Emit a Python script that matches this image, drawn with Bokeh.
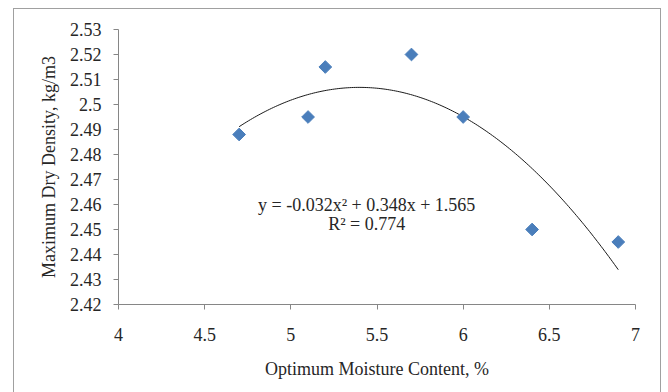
import numpy as np
from bokeh.plotting import figure
from bokeh.models import Label, FixedTicker, Range1d
from bokeh.embed import file_html
from bokeh.resources import INLINE

moisture = [4.7, 5.1, 5.2, 5.7, 6.0, 6.4, 6.9]
density = [2.488, 2.495, 2.515, 2.52, 2.495, 2.45, 2.445]
x_ticks = [4, 4.5, 5, 5.5, 6, 6.5, 7]
y_ticks = [2.42, 2.43, 2.44, 2.45, 2.46, 2.47, 2.48, 2.49, 2.5, 2.51, 2.52, 2.53]
equation_text = "y = -0.032x\u00b2 + 0.348x + 1.565"
r2_text = "R\u00b2 = 0.774"

FONT = "Liberation Serif"
FS = "18px"

p = figure(width=646, height=383, output_backend="svg", toolbar_location=None,
           x_range=Range1d(4, 7), y_range=Range1d(2.42, 2.53),
           min_border_left=104, min_border_right=25, min_border_top=20, min_border_bottom=88)
p.margin = (9, 8, 0, 14)
p.styles = {"outline": "1.5px solid #a0a0a0"}
p.outline_line_color = None
p.xgrid.grid_line_color = None
p.ygrid.grid_line_color = None

# trendline (2nd order polynomial fit of the data)
coef = np.polyfit(moisture, density, 2)
xs = np.linspace(min(moisture), max(moisture), 200)
p.line(xs, np.polyval(coef, xs), line_color="#1a1a1a", line_width=1)

p.scatter(moisture, density, marker="square", angle=np.pi / 4, size=9,
          fill_color="#4a7ebb", line_color="#4a7ebb")

for ax in (p.xaxis[0], p.yaxis[0]):
    ax.axis_line_color = "#868686"
    ax.major_tick_line_color = "#868686"
    ax.minor_tick_line_color = None
    ax.major_tick_out = 5
    ax.major_tick_in = 0
    ax.major_label_text_font = FONT
    ax.major_label_text_font_size = FS
    ax.major_label_text_color = "#262626"
    ax.axis_label_text_font = FONT
    ax.axis_label_text_font_size = FS
    ax.axis_label_text_font_style = "normal"
    ax.axis_label_text_color = "#262626"

p.xaxis.ticker = FixedTicker(ticks=x_ticks)
p.yaxis.ticker = FixedTicker(ticks=y_ticks)
p.xaxis.major_label_overrides = {4: "4", 4.5: "4.5", 5: "5", 5.5: "5.5", 6: "6", 6.5: "6.5", 7: "7"}
p.yaxis.major_label_overrides = {v: ("%g" % v) for v in y_ticks}
p.xaxis.major_label_standoff = 18
p.yaxis.major_label_standoff = 12
p.xaxis.axis_label = "Optimum Moisture Content, %"
p.yaxis.axis_label = "Maximum Dry Density, kg/m3"
p.xaxis.axis_label_standoff = 15
p.yaxis.axis_label_standoff = 8

p.add_layout(Label(x=5.44, y=2.4600, text=equation_text, text_font=FONT,
                   text_font_size=FS, text_color="#262626",
                   text_align="center", text_baseline="middle"))
p.add_layout(Label(x=5.44, y=2.4524, text=r2_text, text_font=FONT,
                   text_font_size=FS, text_color="#262626",
                   text_align="center", text_baseline="middle"))

open("out.html", "w").write(file_html(p, INLINE))
